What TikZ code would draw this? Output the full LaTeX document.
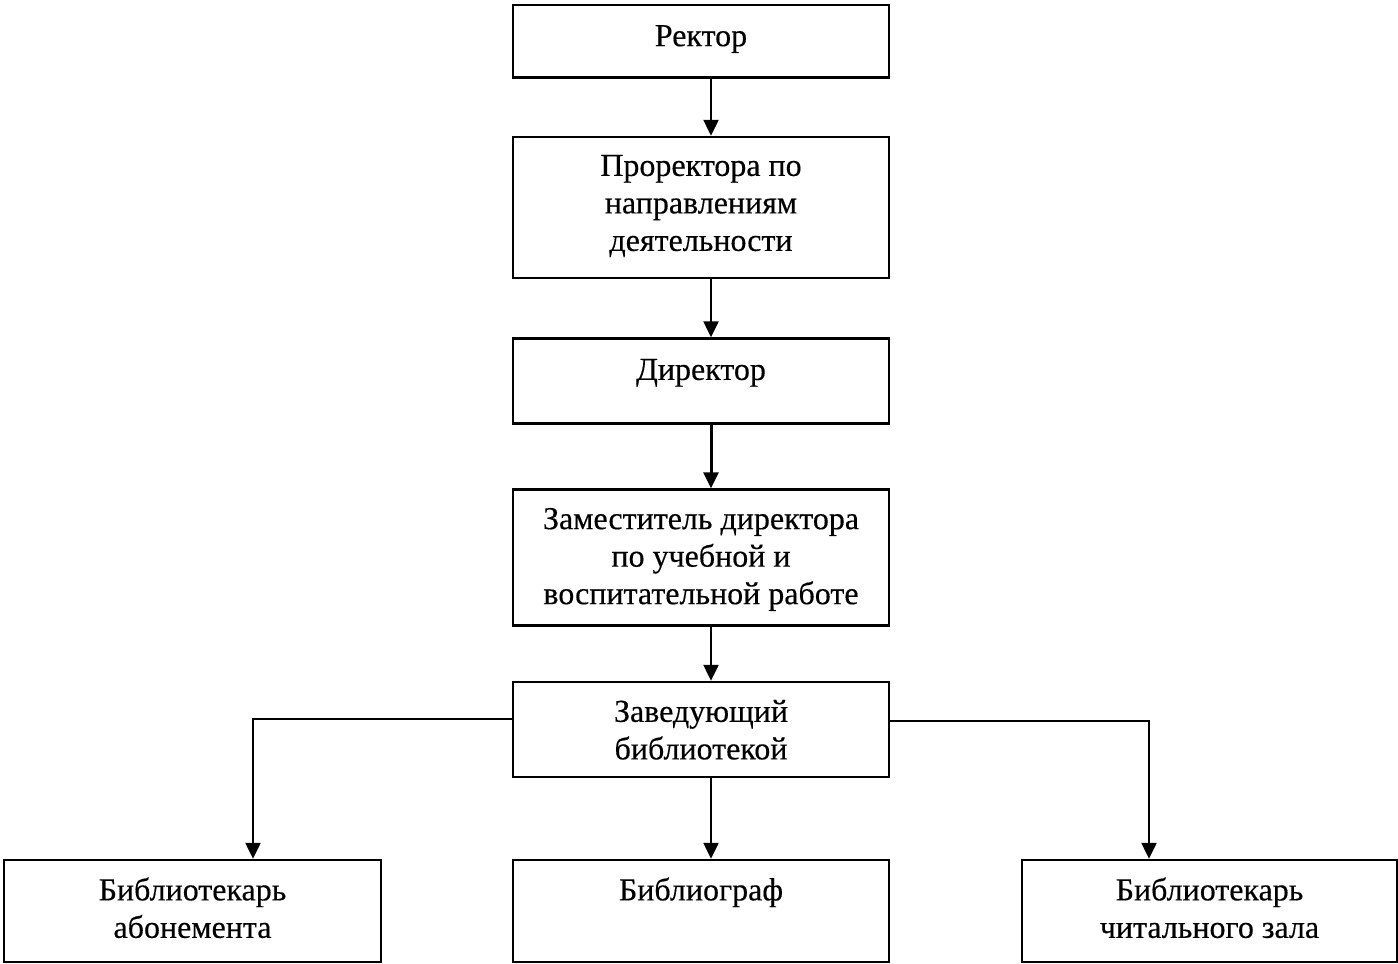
\documentclass[tikz,border=0pt]{standalone}
\usepackage{fontspec}
\setmainfont{Liberation Serif}
\newfontfamily\heavyserif{Liberation Serif}[FakeBold=0.35]
\usetikzlibrary{arrows.meta}
\begin{document}
\begin{tikzpicture}[x=1pt,y=-1pt,
  box/.style={draw, line width=2.5pt, inner sep=0pt, minimum width=376pt},
  txt/.style={anchor=north, inner sep=0pt, align=center, font=\heavyserif\fontsize{32}{37.5}\selectfont},
  arr/.style={line width=2.5pt, -{Triangle[length=16pt,width=15pt]}}]
\useasboundingbox (0,0) rectangle (1398,964);
% boxes
\node[box, minimum height=72.5pt] (rek) at (701,41) {};
\node[box, minimum height=141pt] (pro) at (701,207.5) {};
\node[box, minimum height=85pt] (dir) at (701,381) {};
\node[box, minimum height=136pt] (zam) at (701,557.5) {};
\node[box, minimum height=95pt] (zav) at (701,729.5) {};
\node[box, minimum height=102pt, minimum width=377pt] (ab) at (192.5,911) {};
\node[box, minimum height=102pt] (bg) at (701,911) {};
\node[box, minimum height=102pt, minimum width=375pt] (cz) at (1209.5,911) {};
% texts
\node[txt] (trek) at ([yshift=-21.5pt]rek.north) {Ректор};
\node[txt] (tpro) at ([yshift=-19pt]pro.north) {Проректора по\\направлениям\\деятельности};
\node[txt] (tdir) at ([yshift=-21.5pt]dir.north) {Директор};
\node[txt] (tzam) at ([yshift=-19.5pt]zam.north) {Заместитель директора\\по учебной и\\воспитательной работе};
\node[txt] (tzav) at ([yshift=-19pt]zav.north) {Заведующий\\библиотекой};
\node[txt] (tab) at ([yshift=-18.5pt]ab.north) {Библиотекарь\\абонемента};
\node[txt] (tbg) at ([yshift=-18.5pt]bg.north) {Библиограф};
\node[txt] (tcz) at ([yshift=-18.5pt]cz.north) {Библиотекарь\\читального зала};
% connector x positions
\coordinate (ax) at (711,0);
\coordinate (lx) at (253,0);
\coordinate (rx) at (1149,0);
% arrows
\draw[arr] (rek.south -| ax) -- (pro.north -| ax);
\draw[arr] (pro.south -| ax) -- (dir.north -| ax);
\draw[arr, line width=3pt] (dir.south -| ax) -- (zam.north -| ax);
\draw[arr] (zam.south -| ax) -- (zav.north -| ax);
\draw[arr] (zav.south -| ax) -- (bg.north -| ax);
\draw[arr] ([yshift=10.5pt]zav.west) -| (ab.north -| lx);
\draw[arr] ([yshift=8.5pt]zav.east) -| (cz.north -| rx);
\end{tikzpicture}
\end{document}
